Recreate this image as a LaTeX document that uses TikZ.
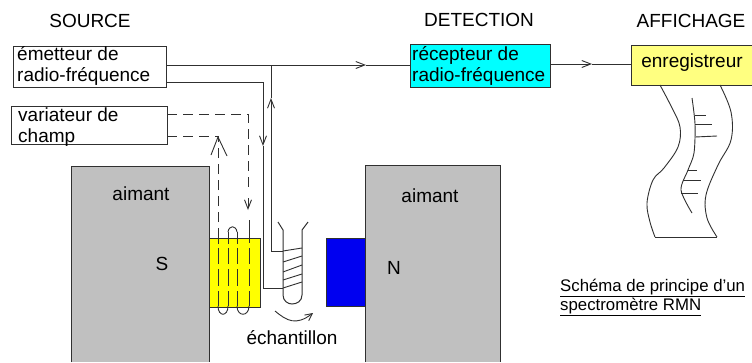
\documentclass[tikz,border=0pt]{standalone}
\usepackage{fontspec}
\usetikzlibrary{arrows.meta}
\setmainfont{Liberation Sans}
\definecolor{ink}{HTML}{303030}
\definecolor{mag}{HTML}{C0C0C0}
\definecolor{lightyellow}{HTML}{FFFF80}
\definecolor{cyanbox}{HTML}{00FFFF}
\definecolor{yellowbox}{HTML}{FFFF00}
\definecolor{bluebox}{HTML}{0000F0}
\tikzset{
  x=1pt,y=-1pt,
  boxed/.style={draw=ink,line width=1pt,inner sep=0pt,outer sep=0pt,anchor=north west},
  lbl/.style={inner sep=0pt,text=black,font=\fontsize{19}{21}\selectfont},
  wire/.style={draw=ink,line width=1pt},
  dwire/.style={draw=ink,line width=1pt,dash pattern=on 10pt off 6pt},
  barb/.style={-{Straight Barb[length=9pt,width=7pt,line width=0.9pt]}},
  thin line/.style={draw=ink,line width=0.9pt},
}
\newcommand{\bx}[6]{\node[boxed,fill=#6,minimum width=#3pt-#1pt,minimum height=#4pt-#2pt] (#5) at (#1,#2) {};}
\begin{document}
\begin{tikzpicture}
\useasboundingbox (0,0) rectangle (752,362);
\fill[white] (0,0) rectangle (752,362);
% magnets
\fill[mag] (71,166) rectangle (209,362);
\fill[mag] (365,165) rectangle (500,362);
\coordinate (ml1) at (71,362); \coordinate (ml2) at (71,166); \coordinate (ml3) at (209,166); \coordinate (ml4) at (209,362);
\draw[wire] (ml1) -- (ml2) -- (ml3) -- (ml4);
\coordinate (mr1) at (365,362); \coordinate (mr2) at (365,165); \coordinate (mr3) at (500,165); \coordinate (mr4) at (500,362);
\draw[wire] (mr1) -- (mr2) -- (mr3) -- (mr4);
% boxes
\bx{209}{238}{260}{307}{yb}{yellowbox}
\bx{326}{238}{365}{306}{bb}{bluebox}
\bx{13}{46}{166}{87}{em}{white}
\bx{11}{106}{167}{144}{va}{white}
\bx{410}{44}{550}{87}{re}{cyanbox}
\bx{631}{45}{760}{85}{en}{lightyellow}
% labels
\node[lbl,anchor=center] (t1) at (90,21) {SOURCE};
\node[lbl,anchor=center] (t2) at (479,20) {DETECTION};
\node[lbl,anchor=center] (t3) at (691,21) {AFFICHAGE};
\node[lbl,anchor=base west,align=left] (t4) at (17,81) {émetteur de\\radio-fréquence};
\node[lbl,anchor=base west,align=left] (t5) at (18,142) {variateur de\\champ};
\node[lbl,anchor=base west,align=left] (t6) at (412,81) {récepteur de\\radio-fréquence};
\node[lbl,anchor=center] (t7) at (692,63) {enregistreur};
\node[lbl,anchor=center] (t8) at (141,194) {aimant};
\node[lbl,anchor=center] (t9) at (162,264) {S};
\node[lbl,anchor=center] (t10) at (430,196) {aimant};
\node[lbl,anchor=center] (t11) at (394,268) {N};
\node[lbl,anchor=center] (t12) at (292,338) {échantillon};
\node[inner sep=0pt,anchor=west,font=\fontsize{16.8}{18}\selectfont] (t13) at (560,288) {\underline{Schéma de principe d'un}};
\node[inner sep=0pt,anchor=west,font=\fontsize{16.8}{18}\selectfont] (t14) at (560,307) {\underline{spectromètre RMN}};
% wires
\coordinate (a1) at (em.east |- 0,65); \coordinate (a2) at (366,65); \coordinate (a3) at (re.west |- 0,65);
\draw[wire,barb] (a1) -- (a2);
\draw[wire] (a2) -- (a3);
\coordinate (b1) at (re.east |- 0,64); \coordinate (b2) at (592,64); \coordinate (b3) at (en.west |- 0,64);
\draw[wire,barb] (b1) -- (b2);
\draw[wire] (b2) -- (b3);
\coordinate (c1) at (em.east |- 0,82); \coordinate (c2) at (263,82); \coordinate (c3) at (263,146); \coordinate (c4) at (263,288); \coordinate (c5) at (283,288);
\draw[wire,barb] (c1) -- (c2) -- (c3);
\draw[wire] (c3) -- (c4) -- (c5);
\coordinate (d0) at (271,65); \coordinate (d1) at (271,98); \coordinate (d2) at (271,251); \coordinate (d3) at (283,251);
\draw[wire,barb] (d2) -- (d1);
\draw[wire] (d1) -- (d0);
\draw[wire] (d2) -- (d3);
% dashed
\coordinate (e1) at (va.east |- 0,114); \coordinate (e2) at (248,114); \coordinate (e3) at (248,192);
\draw[dwire] (e1) -- (e2) -- (e3);
\coordinate (e4) at (248,198); \coordinate (e5) at (248,210);
\draw[wire,barb] (e4) -- (e5);
\coordinate (f1) at (va.east |- 0,136); \coordinate (f2) at (218,136); \coordinate (f3) at (218,238);
\draw[dwire] (f1) -- (f2);
\draw[dwire] (f3) -- (f2);
\coordinate (f5) at (218,137);
\draw[draw=ink,line width=.9pt] (211,155) -- (f5) -- (227,156);
% coil
\draw[thin line] (249,220) -- (249,243);
\foreach \xx in {218,228,237,249}{
  \draw[wire] (\xx,248) -- (\xx,264);
  \draw[wire] (\xx,269) -- (\xx,286);
  \draw[wire] (\xx,291) -- (\xx,306);
}
\foreach \xx in {218,228,237}{
  \draw[wire] (\xx,232) -- (\xx,244);
}
\draw[thin line] (228,232) .. controls (229,225) and (236,225) .. (237,232);
\draw[thin line] (218,306) .. controls (218,317) and (228,317) .. (228,306);
\draw[thin line] (237,306) .. controls (237,317) and (249,317) .. (249,306);
% tube
\coordinate (h1) at (278,222); \coordinate (h2) at (283,230); \coordinate (h4) at (292,304); \coordinate (h6) at (302,230); \coordinate (h7) at (308,222);
\draw[wire] (h1) -- (h2) -- (283,295) .. controls (283,301) and (288,304) .. (h4) .. controls (297,304) and (302,301) .. (302,295) -- (h6) -- (h7);
\foreach \ya/\yb in {251/248,262/256,272/265,280/274,288/282}{
  \draw[draw=ink,line width=.9pt] (283,\ya) -- (302,\yb);
}
% curved arrow
\coordinate (i1) at (275,311); \coordinate (i2) at (313,313);
\draw[draw=ink,line width=.9pt,-{Straight Barb[length=7pt,width=7pt]}] (i1) .. controls (287,321) and (296,326) .. (i2);
% recorder trace
\draw[thin line] plot[smooth,tension=.6] coordinates {(660,85) (672,108) (680,127) (678,147) (664,168) (653,180) (647,203) (650,222) (655,237)};
\draw[thin line] (655,237) -- (717,237);
\draw[thin line] plot[smooth,tension=.6] coordinates {(717,237) (707,218) (706,195) (718,165) (731,140) (731,112) (720,85)};
\draw[thin line] plot[smooth,tension=.5] coordinates {(692,98) (695,124) (694,153) (688,170) (681,190) (692,213)};
\draw[thin line] (695,115) -- (706,115);
\draw[thin line] (695,124) -- (712,124);
\draw[thin line] (695,137) -- (717,136);
\draw[thin line] (688,170) -- (697,170);
\draw[thin line] (683,180) -- (701,180);
\draw[thin line] (681,193) -- (698,193);
\end{tikzpicture}
\end{document}
